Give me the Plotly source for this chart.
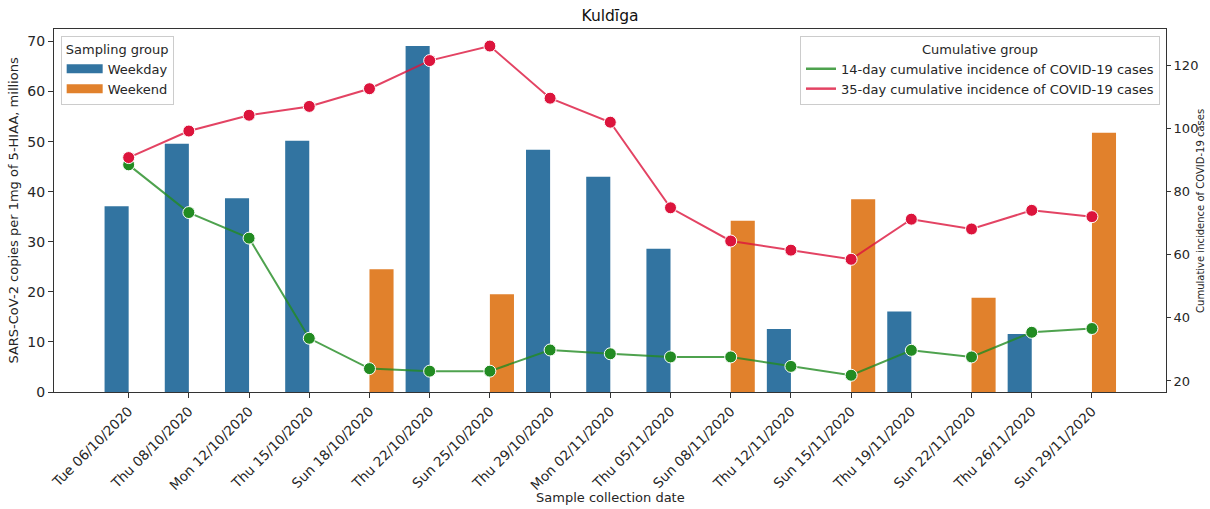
import plotly.graph_objects as go

# Sample dates, sampling group and viral load (SARS-CoV-2 copies per 1 mg of 5-HIAA, millions)
dates = [
    "Tue 06/10/2020", "Thu 08/10/2020", "Mon 12/10/2020", "Thu 15/10/2020",
    "Sun 18/10/2020", "Thu 22/10/2020", "Sun 25/10/2020", "Thu 29/10/2020",
    "Mon 02/11/2020", "Thu 05/11/2020", "Sun 08/11/2020", "Thu 12/11/2020",
    "Sun 15/11/2020", "Thu 19/11/2020", "Sun 22/11/2020", "Thu 26/11/2020",
    "Sun 29/11/2020",
]
sampling_group = [
    "Weekday", "Weekday", "Weekday", "Weekday", "Weekend", "Weekday", "Weekend",
    "Weekday", "Weekday", "Weekday", "Weekend", "Weekday", "Weekend", "Weekday",
    "Weekend", "Weekday", "Weekend",
]
copies_millions = [
    37.1, 49.6, 38.7, 50.2, 24.5, 69.1, 19.5, 48.4, 43.0,
    28.6, 34.2, 12.6, 38.5, 16.1, 18.8, 11.6, 51.8,
]

# Cumulative incidence of COVID-19 cases
incidence_14d = [
    88.4, 73.3, 65.2, 33.5, 23.9, 23.1, 23.1, 29.8, 28.6,
    27.6, 27.6, 24.6, 21.8, 29.7, 27.6, 35.4, 36.6,
]
incidence_35d = [
    90.7, 99.1, 104.1, 106.9, 112.5, 121.4, 126.0, 109.5, 101.9,
    74.8, 64.3, 61.4, 58.5, 71.2, 68.1, 74.0, 72.0,
]

left_ticks = [0, 10, 20, 30, 40, 50, 60, 70]
right_ticks = [20, 40, 60, 80, 100, 120]

FONT = "DejaVu Sans"
TEXT = "#262626"
AXIS = "#333333"
BLUE = "#3274a1"
ORANGE = "#e1812c"
GREEN = "#228b22"
RED = "#dc143c"
GREEN_LINE = "rgba(34,139,34,0.8)"
RED_LINE = "rgba(220,20,60,0.8)"

fig = go.Figure()

# Dodged bars: one slot per sampling group at each date
for group, color in [("Weekday", BLUE), ("Weekend", ORANGE)]:
    fig.add_trace(go.Bar(
        x=dates,
        y=[v if g == group else None for v, g in zip(copies_millions, sampling_group)],
        name=group,
        marker=dict(color=color, line=dict(width=0)),
        showlegend=False,
        hovertemplate="%{x}<br>%{y}<extra>" + group + "</extra>",
    ))
    # wide swatch for the legend
    fig.add_trace(go.Scatter(
        x=[None], y=[None], mode="lines", name=group,
        line=dict(color=color, width=9), legend="legend",
        hoverinfo="skip",
    ))

# Cumulative incidence lines on the secondary axis
for name, values, marker_color, line_color in [
    ("14-day cumulative incidence of COVID-19 cases", incidence_14d, GREEN, GREEN_LINE),
    ("35-day cumulative incidence of COVID-19 cases", incidence_35d, RED, RED_LINE),
]:
    fig.add_trace(go.Scatter(
        x=dates, y=values, yaxis="y2", mode="lines+markers", name=name,
        line=dict(color=line_color, width=2),
        marker=dict(size=12, color=marker_color, line=dict(color="white", width=1)),
        showlegend=False,
    ))
    fig.add_trace(go.Scatter(
        x=[None], y=[None], yaxis="y2", mode="lines", name=name,
        line=dict(color=line_color, width=2.5), legend="legend2",
        hoverinfo="skip",
    ))

axis_common = dict(
    showgrid=False, zeroline=False, showline=True, linecolor=AXIS, linewidth=1,
    ticks="outside", tickcolor=AXIS, tickwidth=1,
)

legend_common = dict(
    bgcolor="rgba(255,255,255,0.8)", bordercolor="#cccccc", borderwidth=1,
    font=dict(family=FONT, size=13, color=TEXT),
    yanchor="top", y=0.981,
)

fig.update_layout(
    width=1210, height=509,
    margin=dict(l=54, r=41, t=29, b=117),
    plot_bgcolor="white", paper_bgcolor="white",
    font=dict(family=FONT, size=13, color=TEXT),
    barmode="group", bargap=0.2, bargroupgap=0,
    title=dict(
        text="Kuldīga", x=0.5, xref="paper", xanchor="center",
        y=1 - 16 / 509, yanchor="middle",
        font=dict(family=FONT, size=15.5, color="#111111"),
    ),
    xaxis=dict(
        type="category", categoryorder="array", categoryarray=dates,
        range=[-1.24, 17.23], tickangle=-45, mirror=True, ticklen=5,
        tickfont=dict(family=FONT, size=13.6, color=TEXT), **axis_common,
    ),
    yaxis=dict(range=[0, 72.5], tickvals=left_ticks, ticklen=5,
               tickfont=dict(family=FONT, size=14, color=TEXT), **axis_common),
    yaxis2=dict(
        overlaying="y", side="right", range=[16.5, 131.4],
        tickvals=right_ticks, ticklen=4,
        tickfont=dict(family=FONT, size=13, color=TEXT), **axis_common,
    ),
    legend=dict(
        title=dict(text="Sampling group", side="top center",
                   font=dict(family=FONT, size=13, color=TEXT)),
        x=0.006, xanchor="left", itemwidth=36, **legend_common,
    ),
    legend2=dict(
        title=dict(text="Cumulative group", side="top center",
                   font=dict(family=FONT, size=13, color=TEXT)),
        x=0.9946, xanchor="right", **legend_common,
    ),
    annotations=[
        dict(text="Sample collection date", xref="paper", yref="paper",
             x=0.5, y=-0.292, xanchor="center", yanchor="middle", showarrow=False,
             font=dict(family=FONT, size=13, color=TEXT)),
        dict(text="SARS-CoV-2 copies per 1mg of 5-HIAA, millions", xref="paper", yref="paper",
             x=-0.0368, y=0.5, xanchor="center", yanchor="middle", textangle=-90,
             showarrow=False, font=dict(family=FONT, size=13, color=TEXT)),
        # right-axis title pinned to the figure's right edge
        dict(text="Cumulative incidence of COVID-19 cases", xref="paper", yref="paper",
             x=(1210 - 54) / 1115, y=0.5, xanchor="right", yanchor="middle",
             textangle=-90, borderpad=0,
             showarrow=False, font=dict(family=FONT, size=10, color=TEXT)),
    ],
)

fig.write_html("out.html")
